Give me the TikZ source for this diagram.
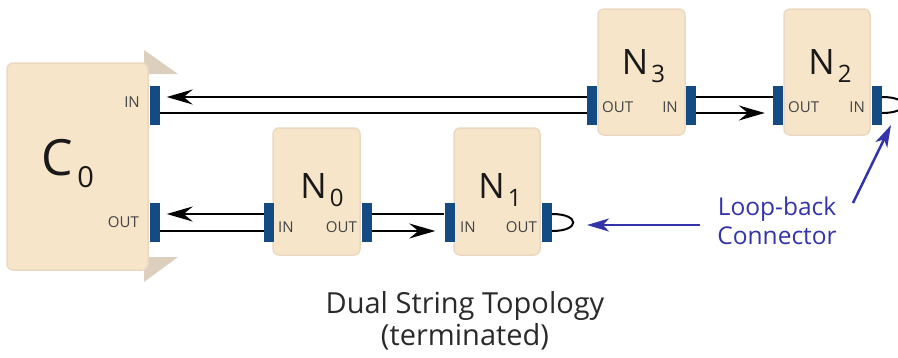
\documentclass[tikz,border=0pt]{standalone}
\usepackage{fontspec}
\setmainfont{Open Sans}
\usetikzlibrary{arrows.meta,calc}
\definecolor{boxfill}{HTML}{F6E5C9}
\definecolor{boxline}{HTML}{E9D9C2}
\definecolor{flag}{HTML}{DCCFBE}
\definecolor{portblue}{HTML}{144B82}
\definecolor{annblue}{HTML}{3434AA}
\definecolor{lblgrey}{HTML}{444444}
\definecolor{titlegrey}{HTML}{2A2A2A}
\newcommand{\nsub}[1]{\kern3pt\raisebox{-8pt}{\fontsize{24}{24}\selectfont #1}}
\begin{document}
\begin{tikzpicture}[x=1pt,y=-1pt,
  nbox/.style={draw=boxline, fill=boxfill, line width=1.5pt, rounded corners=6pt, inner sep=0pt},
  port/.style={fill=portblue, inner sep=0pt, minimum width=10pt, minimum height=39pt},
  wire/.style={draw=black, line width=2pt},
  bigarrow/.style={-{Stealth[length=26pt,width=15pt,inset=9pt]}},
  plbl/.style={font=\fontsize{15}{15}\selectfont, text=lblgrey, inner sep=0pt},
  nlbl/.style={font=\fontsize{35}{35}\selectfont, text=black!90, inner sep=0pt},
  ann/.style={font=\fontsize{24.5}{24.5}\selectfont, text=annblue, inner sep=0pt},
  annarrow/.style={draw=annblue, line width=2.5pt, -{Stealth[length=22pt,width=13pt,inset=6pt]}},
  ttl/.style={font=\fontsize{29}{29}\selectfont, text=titlegrey, inner sep=0pt}
]
\useasboundingbox (0,0) rectangle (898,357);
\clip (0,0) rectangle (898,357);

% C0 flags
\fill[flag] (144,50) -- (178,74) -- (144,74) -- cycle;
\fill[flag] (144,257) -- (178,257) -- (144,282) -- cycle;

% boxes
\node[nbox, minimum width=141pt, minimum height=207pt] (C0) at (77.5,166.5) {};
\node[nbox, minimum width=87pt, minimum height=126pt] (N3) at (641.5,72) {};
\node[nbox, minimum width=86pt, minimum height=126pt] (N2) at (827,72) {};
\node[nbox, minimum width=87pt, minimum height=127pt] (N0) at (316.5,191.5) {};
\node[nbox, minimum width=86pt, minimum height=127pt] (N1) at (497,191.5) {};

% ports
\node[port] (C0in) at (154.5,105) {};
\node[port] (C0out) at (154.5,222.5) {};
\node[port] (N3out) at (592,105) {};
\node[port] (N3in) at (691,105) {};
\node[port] (N2out) at (778,105) {};
\node[port] (N2in) at (877,105) {};
\node[port] (N0in) at (269,222.5) {};
\node[port] (N0out) at (366.5,222.5) {};
\node[port] (N1in) at (449.5,222.5) {};
\node[port] (N1out) at (547,222.5) {};

% node titles
\node[anchor=base, inner sep=0pt, text=black!90] (C0t) at (68,175)
  {\fontsize{50}{50}\selectfont C\kern4pt\raisebox{-12pt}{\fontsize{29}{29}\selectfont 0}};
\node[nlbl, anchor=base] (N3t) at (643.5,74) {N\nsub{3}};
\node[nlbl, anchor=base] (N2t) at (830,74) {N\nsub{2}};
\node[nlbl, anchor=base] (N0t) at (322,198) {N\nsub{0}};
\node[nlbl, anchor=base] (N1t) at (500,198) {N\nsub{1}};

% port labels
\node[plbl, anchor=base east] (l1) at (140,107) {IN};
\node[plbl, anchor=base east] (l2) at (139,227) {OUT};
\node[plbl, anchor=base west] (l3) at (602,112) {OUT};
\node[plbl, anchor=base east] (l4) at (678,112) {IN};
\node[plbl, anchor=base west] (l5) at (788,112) {OUT};
\node[plbl, anchor=base east] (l6) at (865,112) {IN};
\node[plbl, anchor=base west] (l7) at (278,232) {IN};
\node[plbl, anchor=base east] (l8) at (357,232) {OUT};
\node[plbl, anchor=base west] (l9) at (460,232) {IN};
\node[plbl, anchor=base east] (l10) at (537,232) {OUT};

% wires upper
\draw[wire, bigarrow] ([yshift=8pt]N3out.west) -- ([yshift=8pt,xshift=7pt]C0in.east);
\draw[wire] ([yshift=-8pt]C0in.east) -- ([yshift=-8pt]N3out.west);
\draw[wire] ([yshift=8pt]N3in.east) -- ([yshift=8pt]N2out.west);
\draw[wire, bigarrow] ([yshift=-8pt]N3in.east) -- ([yshift=-8pt,xshift=-8pt]N2out.west);
% wires lower
\draw[wire, bigarrow] ([yshift=8.5pt]N0in.west) -- ([yshift=8.5pt,xshift=7pt]C0out.east);
\draw[wire] ([yshift=-8.5pt]C0out.east) -- ([yshift=-8.5pt]N0in.west);
\draw[wire] ([yshift=8.5pt]N0out.east) -- ([yshift=8.5pt]N1in.west);
\draw[wire, bigarrow] ([yshift=-8.5pt]N0out.east) -- ([yshift=-8.5pt,xshift=-9pt]N1in.west);

% loop-backs
\draw[wire] ([yshift=8.5pt]N1out.east) .. controls +(28,0) and +(28,0) .. ([yshift=-8.5pt]N1out.east);
\draw[wire] ([yshift=8pt]N2in.east) .. controls +(28,0) and +(28,0) .. ([yshift=-8pt]N2in.east);

% annotation
\node[ann, anchor=base] (lb1) at (777,215) {Loop-back};
\node[ann, anchor=base] (lb2) at (777,244) {Connector};
\coordinate (a1s) at (700,225);
\coordinate (a1e) at (587,225);
\coordinate (a2s) at (853,203);
\coordinate (a2e) at (891,125);
\draw[annarrow] (a1s) -- (a1e);
\draw[annarrow] (a2s) -- (a2e);

% title
\node[ttl, anchor=base] (t1) at (465,313) {Dual String Topology};
\node[ttl, anchor=base] (t2) at (465,345) {(terminated)};
\end{tikzpicture}
\end{document}
